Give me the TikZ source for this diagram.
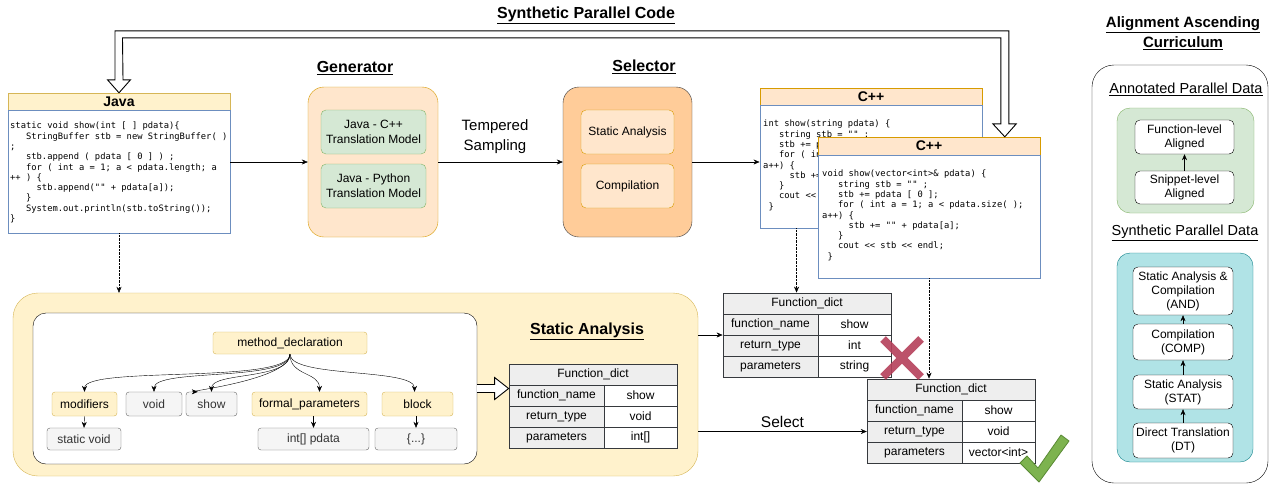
\documentclass[tikz,border=0pt]{standalone}
\usepackage{fontspec}
\setmainfont{Liberation Sans}
\setmonofont{DejaVu Sans Mono}
\usetikzlibrary{arrows.meta,calc,fit}
\definecolor{jfill}{HTML}{FFF2CC}
\definecolor{jbord}{HTML}{D6B656}
\definecolor{ofill}{HTML}{FFE6CC}
\definecolor{obord}{HTML}{D79B00}
\definecolor{sfill}{HTML}{FFCC99}
\definecolor{dgray}{HTML}{36393D}
\definecolor{bblue}{HTML}{6C8EBF}
\definecolor{gfill}{HTML}{D5E8D4}
\definecolor{gbord}{HTML}{82B366}
\definecolor{cfill}{HTML}{B0E3E6}
\definecolor{cbord}{HTML}{0E8088}
\definecolor{nfill}{HTML}{F5F5F5}
\definecolor{nbord}{HTML}{666666}
\definecolor{ntext}{HTML}{333333}
\definecolor{tgray}{HTML}{EEEEEE}
\definecolor{xred}{HTML}{B5405A}
\definecolor{ckfill}{HTML}{7DB34F}
\definecolor{ckdraw}{HTML}{5A8A35}
\newcommand\mybox[7]{\node[#2, minimum width={(#5)-(#3)}, minimum height={(#6)-(#4)}, inner sep=0pt] (#1) at ({((#3)+(#5))/2},{((#4)+(#6))/2}) {#7};}
\newcommand\fdict[6]{%
\mybox{#1h}{cellg}{#2}{#3}{#2+168}{#3+21}{Function\_dict}%
\mybox{#1a}{cellg}{#2}{#3+21}{#2+95}{#3+42}{function\_name}%
\mybox{#1av}{cellw}{#2+95}{#3+21}{#2+168}{#3+42}{#4}%
\mybox{#1b}{cellg}{#2}{#3+42}{#2+95}{#3+63}{return\_type}%
\mybox{#1bv}{cellw}{#2+95}{#3+42}{#2+168}{#3+63}{#5}%
\mybox{#1c}{cellg}{#2}{#3+63}{#2+95}{#3+84}{parameters}%
\mybox{#1cv}{cellw}{#2+95}{#3+63}{#2+168}{#3+84}{#6}%
\node[fit=(#1h)(#1cv), inner sep=0pt] (#1) {};}
\tikzset{
 basefont/.style={font=\fontsize{12}{15}\selectfont, align=center, inner sep=0pt},
 jhead/.style={basefont, draw=jbord, fill=jfill, font=\bfseries\fontsize{14}{16}\selectfont},
 chead/.style={basefont, draw=obord, fill=ofill, font=\bfseries\fontsize{14}{16}\selectfont},
 codebox/.style={basefont, draw=bblue, fill=white, line width=0.9pt},
 codetxt/.style={font=\ttfamily\fontsize{8.8}{10.3}\selectfont, align=left, inner sep=0pt, anchor=north west},
 genbox/.style={basefont, draw=obord, fill=ofill, rounded corners=16pt},
 selbox/.style={basefont, draw=dgray, fill=sfill, rounded corners=16pt},
 model/.style={basefont, draw=gbord, fill=gfill, rounded corners=5pt},
 selin/.style={basefont, draw=obord, fill=ofill, rounded corners=5pt},
 ttl/.style={font=\bfseries\fontsize{16}{20}\selectfont, inner sep=0pt, align=center},
 subttl/.style={font=\fontsize{14.5}{17}\selectfont, inner sep=0pt},
 plain/.style={font=\fontsize{15}{20}\selectfont, inner sep=0pt, align=center},
 sabox/.style={draw=jbord, fill=jfill, rounded corners=25pt},
 treebox/.style={draw=black, fill=white, rounded corners=13pt},
 ynode/.style={basefont, draw=jbord, fill=jfill, rounded corners=3pt},
 gnode/.style={basefont, draw=nbord, fill=nfill, text=ntext, rounded corners=3pt},
 cellg/.style={basefont, draw=dgray, fill=tgray},
 cellw/.style={basefont, draw=dgray, fill=white},
 curbox/.style={draw=black, fill=white, rounded corners=22pt},
 gpanel/.style={draw=gbord, fill=gfill, rounded corners=13pt},
 cpanel/.style={draw=cbord, fill=cfill, rounded corners=13pt},
 wbox/.style={basefont, font=\fontsize{12}{14}\selectfont, draw=black, fill=white, rounded corners=5pt},
 arr/.style={draw=black, -{Stealth[length=6pt,width=5pt]}},
 dotarr/.style={draw=black, densely dotted, -{Stealth[length=6pt,width=5pt]}},
 hollow/.style={draw=black, fill=white, line width=0.9pt, line join=miter},
}
\begin{document}
\begin{tikzpicture}[x=1pt,y=-1pt]
\useasboundingbox[fill=white] (0,0) rectangle (1273,485);

% ---------- top title ----------
\node[ttl] (sptitle) at (586,15) {\underline{Synthetic Parallel Code}};

% ---------- Java ----------
\mybox{javah}{jhead}{8}{93}{230}{110}{Java}
\mybox{javab}{codebox}{8}{110}{230}{233}{}
\node[codetxt] (javacode) at (10,122) {static void show(int [ ] pdata)\{\\%
\phantom{000}StringBuffer stb = new StringBuffer( )\\%
;\\%
\phantom{000}stb.append ( pdata [ 0 ] ) ;\\%
\phantom{000}for ( int a = 1; a < pdata.length; a\\%
++ ) \{\\%
\phantom{00000}stb.append("" + pdata[a]);\\%
\phantom{000}\}\\%
\phantom{000}System.out.println(stb.toString());\\%
\}};

% ---------- Generator ----------
\node[ttl] (gentitle) at (355,68) {\underline{Generator}};
\mybox{gen}{genbox}{308}{87}{438}{237}{}
\mybox{m1}{model}{321}{110}{426}{154}{Java - C++\\Translation Model}
\mybox{m2}{model}{321}{164}{426}{208}{Java - Python\\Translation Model}

\node[plain] (temp) at (495,137) {Tempered\\Sampling};

% ---------- Selector ----------
\node[ttl] (seltitle) at (644,67) {\underline{Selector}};
\mybox{sel}{selbox}{563}{87}{692}{237}{}
\mybox{s1}{selin}{581}{110}{674}{154}{Static Analysis}
\mybox{s2}{selin}{581}{164}{674}{208}{Compilation}

% ---------- C++ boxes ----------
\mybox{cpp1h}{chead}{760}{88}{982}{105}{C++}
\mybox{cpp1b}{codebox}{760}{105}{982}{228}{}
\node[codetxt] (cpp1code) at (763,120) {int show(string pdata) \{\\%
\phantom{000}string stb = "" ;\\%
\phantom{000}stb += p\\%
\phantom{000}for ( in\\%
a++) \{\\%
\phantom{00000}stb +=\\%
\phantom{000}\}\\%
\phantom{000}cout <<\\%
\phantom{0}\}};
\mybox{cpp2h}{chead}{818}{137}{1040}{155}{C++}
\mybox{cpp2b}{codebox}{818}{155}{1040}{278}{}
\node[codetxt] (cpp2code) at (822,170) {void show(vector<int>\& pdata) \{\\%
\phantom{000}string stb = "" ;\\%
\phantom{000}stb += pdata [ 0 ];\\%
\phantom{000}for ( int a = 1; a < pdata.size( );\\%
a++) \{\\%
\phantom{00000}stb += "" + pdata[a];\\%
\phantom{000}\}\\%
\phantom{000}cout << stb << endl;\\%
\phantom{0}\}};

% ---------- main flow arrows ----------
\draw[arr] (javab.east |- gen.west) -- (gen.west);
\draw[arr] (gen.east) -- (sel.west);
\draw[arr] (sel.east) -- (sel.east -| cpp1b.west);

% ---------- top hollow arrow ----------
\coordinate (tipL) at (javah.north);
\coordinate (tipR) at ($(cpp2h.north west)+(187,0)$);
\draw[hollow] (tipL) -- ++(11.5,-13) -- ++(-7.5,0) -- ($(tipL)+(3.5,-55)$)
  -- ($(tipR)+(-4,-99)$) -- ($(tipR)+(-4,-13)$) -- ++(-8,0) -- (tipR)
  -- ++(11.5,-13) -- ++(-7.5,0) -- ($(tipR)+(4,-106)$)
  -- ($(tipL)+(-4,-62)$) -- ($(tipL)+(-4,-13)$) -- ++(-7.5,0) -- cycle;

% ---------- Static analysis ----------
\mybox{sa}{sabox}{13}{293}{698}{476}{}
\draw[dotarr] (javab.south) -- (javab.south |- sa.north);
\mybox{tree}{treebox}{33}{313}{477}{464}{}
\node[ttl] (satitle) at (587,331) {\underline{Static Analysis}};

\mybox{md}{ynode}{213}{332}{367}{354}{method\_declaration}
\mybox{mod}{ynode}{52}{392}{117}{416}{modifiers}
\mybox{vd}{gnode}{126}{392}{182}{416}{void}
\mybox{sh}{gnode}{186}{392}{237}{416}{show}
\mybox{fp}{ynode}{252}{392}{367}{416}{formal\_parameters}
\mybox{blk}{ynode}{382}{392}{453}{416}{block}
\mybox{stv}{gnode}{47}{428}{121}{450}{static void}
\mybox{ipd}{gnode}{258}{428}{369}{450}{int[] pdata}
\mybox{brc}{gnode}{375}{428}{457}{450}{\{...\}}

\draw[arr] (md.south) .. controls +(0,30) and +(0,-26) .. (mod.north);
\draw[arr] (md.south) .. controls +(0,28) and +(0,-24) .. (vd.north);
\draw[arr] (md.south) .. controls +(0,26) and +(0,-20) .. (sh.north);
\draw[arr] (md.south) .. controls +(0,26) and +(-16,0) .. ($(sh.north west)+(12,0)$);
\draw[arr] (md.south) .. controls +(0,22) and +(0,-20) .. ($(fp.north)+(10,0)$);
\draw[arr] (md.south) .. controls +(0,24) and +(0,-24) .. ($(blk.north)+(-3,0)$);
\draw[arr] (mod.south) -- (stv.north);
\draw[arr] (ipd.north |- fp.south) -- (ipd.north);
\draw[arr] (brc.north |- blk.south) -- (brc.north);

\fdict{ta}{509}{364}{show}{void}{int[]}

\coordinate (hs) at (tree.east);
\coordinate (ht) at (tree.east -| ta.west);
\fill[white] ($(hs)+(0,-4)$) -- ($(ht)+(-14,-4)$) -- ($(ht)+(-14,-11)$) -- (ht)
  -- ($(ht)+(-14,11)$) -- ($(ht)+(-14,4)$) -- ($(hs)+(0,4)$) -- cycle;
\draw[line width=0.9pt, line join=miter] ($(hs)+(0,-4)$) -- ($(ht)+(-14,-4)$) -- ($(ht)+(-14,-11)$) -- (ht)
  -- ($(ht)+(-14,11)$) -- ($(ht)+(-14,4)$) -- ($(hs)+(0,4)$);

% ---------- candidate tables ----------
\fdict{tb}{723}{293}{show}{int}{string}
\fdict{tc}{867}{379}{show}{void}{vector<int>}

\coordinate (c1d) at ($(cpp1b.south west)+(37,0)$);
\draw[dotarr] (c1d) -- (c1d |- tb.north);
\draw[dotarr] (cpp2b.south) -- (cpp2b.south |- tc.north);
\draw[arr] (sa.east |- tb.west) -- (tb.west);
\draw[arr] (sa.east |- tcb.west) -- (tcb.west)
  node[midway, above=4pt, font=\fontsize{15.5}{18}\selectfont, inner sep=0pt] (selectlbl) {Select};

% red cross
\draw[xred, opacity=0.9, line width=8pt] (883,339) -- (921,377) (921,339) -- (883,377);
% green check
\filldraw[fill=ckfill, draw=ckdraw, line width=0.8pt, line join=round]
  (1020,463) -- (1027,456) -- (1038,468) -- (1061,435) -- (1069,441) -- (1039,482) -- cycle;

% ---------- curriculum ----------
\node[ttl, font=\bfseries\fontsize{15}{20}\selectfont] (curtitle) at (1183,33) {\underline{Alignment Ascending}\\\underline{Curriculum}};
\mybox{curr}{curbox}{1092}{65}{1268}{483}{}
\node[subttl] (anno) at (1186,89) {\underline{Annotated Parallel Data}};
\mybox{gbox}{gpanel}{1117}{108}{1254}{213}{}
\mybox{fl}{wbox}{1135}{120}{1234}{154}{Function-level\\Aligned}
\mybox{sl}{wbox}{1135}{171}{1234}{204}{Snippet-level\\Aligned}
\draw[arr] (sl.north) -- (fl.south);
\node[subttl] (synth) at (1185,233) {\underline{Synthetic Parallel Data}};
\mybox{cbox}{cpanel}{1117}{253}{1253}{462}{}
\mybox{andb}{wbox}{1133}{267}{1233}{315}{Static Analysis \&\\Compilation\\(AND)}
\mybox{comp}{wbox}{1133}{324}{1233}{360}{Compilation\\(COMP)}
\mybox{stat}{wbox}{1133}{375}{1233}{409}{Static Analysis\\(STAT)}
\mybox{dt}{wbox}{1133}{423}{1233}{458}{Direct Translation\\(DT)}
\draw[arr] (comp.north) -- (andb.south);
\draw[arr] (stat.north) -- (comp.south);
\draw[arr] (dt.north) -- (stat.south);
\end{tikzpicture}
\end{document}
